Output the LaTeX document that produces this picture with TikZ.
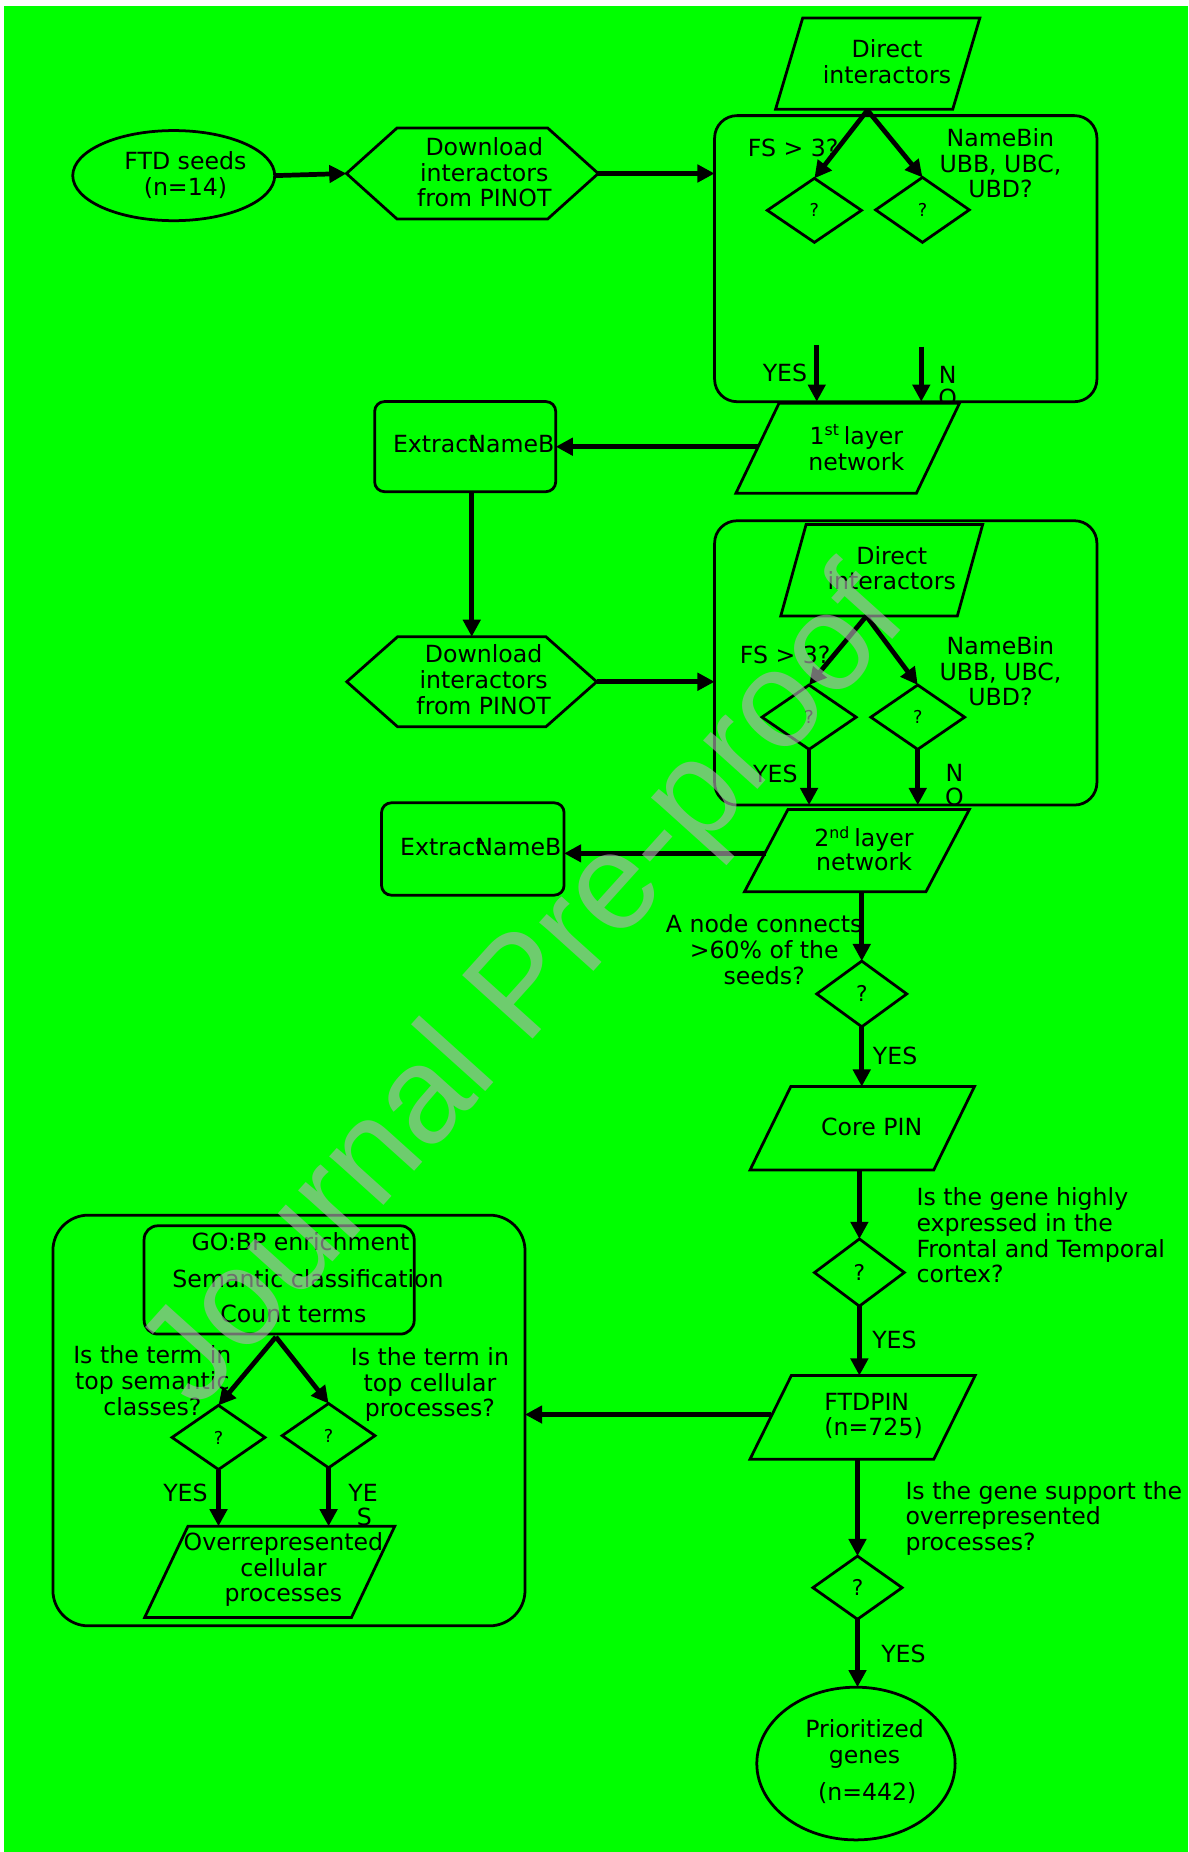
\documentclass[tikz,border=0pt]{standalone}
\usepackage{fontspec}
\setmainfont{DejaVu Sans}
\newfontfamily\wmfont{Liberation Sans}
\usetikzlibrary{shapes.geometric,arrows.meta,calc}
\definecolor{bg}{RGB}{0,255,0}
\definecolor{wm}{RGB}{175,175,175}
\tikzset{
  outline/.style={draw=black, line width=1.4pt},
  sz/.style 2 args={minimum width=#1*0.6pt, minimum height=#2*0.6pt, inner sep=0pt, outer sep=0pt},
  ghost/.style={draw=none, inner sep=0pt, outer sep=0pt},
  dia/.style={diamond, outline, fill=bg, inner sep=0pt, outer sep=0pt, font=\fontsize{9}{10}\selectfont},
  bigdia/.style={dia, font=\fontsize{11}{12}\selectfont},
  oval/.style={ellipse, outline, fill=bg, inner sep=0pt, outer sep=0pt},
  conn/.style={line width=2.4pt, -{Triangle[length=8.7pt,width=8.7pt]}},
  txt/.style={font=\fontsize{12}{13}\selectfont, align=center, inner sep=0pt},
  ltxt/.style={txt, align=left, anchor=west},
}
\newcommand\pgramdraw[2]{\draw[outline, fill=bg] (#1.south west) -- ($(#1.north west)+(#2,0)$) -- (#1.north east) -- ($(#1.south east)+(-#2,0)$) -- cycle;}
\newcommand\hexdraw[2]{\draw[outline, fill=bg] (#1.west) -- ($(#1.north west)+(#2,0)$) -- ($(#1.north east)+(-#2,0)$) -- (#1.east) -- ($(#1.south east)+(-#2,0)$) -- ($(#1.south west)+(#2,0)$) -- cycle;}
\begin{document}
\begin{tikzpicture}[x=0.6pt,y=-0.6pt]
\useasboundingbox (0,0) rectangle (1006,1568);
\fill[white] (0,0) rectangle (1006,1568);
\fill[bg] (3.4,5.1) rectangle (1006,1568);

% containers
\node[outline, rounded corners=11.4pt, sz={323.7}{242.2}] (box1) at (766.85,219) {};
\node[outline, rounded corners=11.4pt, sz={323.7}{240.7}] (box2) at (766.85,561.25) {};
\node[outline, rounded corners=18pt, sz={399.7}{347.7}] (box3) at (244.65,1202.65) {};

% labels inside containers
\node[txt] at (671.5,125.6) {FS > 3?};
\node[txt] at (847,138.3) {NameBin\\UBB, UBC,\\UBD?};
\node[txt] at (664.6,316.1) {YES};
\node[txt] at (802.4,317) {N};
\node[txt] at (802.4,337) {O};
\node[txt] at (664.7,554.6) {FS > 3?};
\node[txt] at (847,568.5) {NameBin\\UBB, UBC,\\UBD?};
\node[txt] at (656.5,654.8) {YES};
\node[txt] at (808,654.3) {N};
\node[txt] at (808,674.6) {O};

% shapes
\node[oval, sz={171}{76.3}] (ftd) at (147.1,148.7) {};
\node[ghost, sz={213.2}{77}] (hex1) at (399.9,146.9) {}; \hexdraw{hex1}{42.8}
\node[ghost, sz={173}{77.4}] (pi1) at (743.1,53.9) {}; \pgramdraw{pi1}{23}
\node[dia, sz={79.7}{54.2}] (d1l) at (689.5,178.1) {?};
\node[dia, sz={79.3}{55}] (d1r) at (781,177.7) {?};
\node[ghost, sz={189.3}{76.2}] (l1) at (717.65,379.6) {}; \pgramdraw{l1}{36.5}
\node[outline, fill=bg, rounded corners=5pt, sz={153.3}{76.3}] (e1) at (393.85,378.15) {};
\node[ghost, sz={211.6}{76.2}] (hex2) at (399.4,577.2) {}; \hexdraw{hex2}{43}
\node[ghost, sz={171}{77.6}] (pi2) at (746.5,482.8) {}; \pgramdraw{pi2}{21.5}
\node[dia, sz={79.7}{54.5}] (d2l) at (685,607.2) {?};
\node[dia, sz={79.4}{54.5}] (d2r) at (777,607.2) {?};
\node[ghost, sz={190.4}{69.7}] (l2) at (725.5,720.2) {}; \pgramdraw{l2}{36.8}
\node[outline, fill=bg, rounded corners=5pt, sz={154.6}{78.2}] (e2) at (400.3,718.8) {};
\node[bigdia, sz={76.2}{55.6}] (d3) at (729.6,841.5) {?};
\node[ghost, sz={190}{70.7}] (core) at (730,955.3) {}; \pgramdraw{core}{34.5}
\node[bigdia, sz={76}{56.9}] (d4) at (727.6,1077.4) {?};
\node[ghost, sz={190.6}{70.8}] (ftdpin) at (730.3,1200) {}; \pgramdraw{ftdpin}{35}
\node[bigdia, sz={75.5}{53.5}] (d5) at (726,1344.2) {?};
\node[oval, sz={167.9}{129.3}] (prio) at (724.7,1493.1) {};
\node[ghost, sz={228.7}{91.7}] (inner) at (236.35,1083.65) {};
\node[dia, sz={78.7}{54.3}] (d6) at (185,1217) {?};
\node[dia, sz={78.6}{54.4}] (d7) at (278.2,1215.5) {?};
\node[ghost, sz={211.7}{77.2}] (ocp) at (228.35,1330.8) {}; \pgramdraw{ocp}{36.6}

% connectors
\draw[conn] (ftd.east) -- (hex1.west);
\draw[conn] (hex1.east) -- (hex1.east -| box1.west);
\coordinate (a1) at ($(pi1.south)+(-8.7,0.7)$);
\draw[conn] (a1) -- (d1l.north);
\draw[conn] (a1) -- (d1r.north);
\coordinate (y1) at (691.5,292.1);
\coordinate (n1) at (780,293.5);
\draw[conn] (y1) -- (y1 |- box1.south);
\draw[conn] (n1) -- (n1 |- box1.south);
\coordinate (s1) at ($(l1.west)+(18.7,-1.4)$);
\draw[conn] (s1) -- (s1 -| e1.east);
\draw[conn] (hex2.north |- e1.south) -- (hex2.north);
\draw[conn] (hex2.east) -- (hex2.east -| box2.west);
\coordinate (a2) at ($(pi2.south)+(-13,0)$);
\draw[conn] (a2) -- (d2l.north);
\draw[conn] (a2) -- (d2r.north);
\draw[conn] (d2l.south) -- (d2l.south |- box2.south);
\draw[conn] (d2r.south) -- (d2r.south |- box2.south);
\coordinate (s2) at ($(l2.west)+(18.4,2.3)$);
\draw[conn] (s2) -- (s2 -| e2.east);
\draw[conn] (d3.north |- l2.south) -- (d3.north);
\draw[conn] (d3.south) -- (d3.south |- core.north);
\draw[conn] (d4.north |- core.south) -- (d4.north);
\draw[conn] (d4.south) -- (d4.south |- ftdpin.north);
\coordinate (s3) at ($(ftdpin.west)+(17.5,-2.4)$);
\draw[conn] (s3) -- (s3 -| box3.east);
\draw[conn] (d5.north |- ftdpin.south) -- (d5.north);
\draw[conn] (d5.south) -- (d5.south |- prio.north);
\coordinate (a3) at ($(inner.south)+(-2.8,2.4)$);
\draw[conn] (a3) -- (d6.north);
\draw[conn] (a3) -- (d7.north);
\draw[conn] (d6.south) -- (d6.south |- ocp.north);
\draw[conn] (d7.south) -- (d7.south |- ocp.north);

% shape texts
\node[txt] at (157,148) {FTD seeds\\(n=14)};
\node[txt] at (410,146) {Download\\interactors\\from PINOT};
\node[txt] at (751,52) {Direct\\interactors};
\node[txt] at (725,379) {1\textsuperscript{st}\,layer\\network};
\node[txt] at (401,376.2) {Extrac\rlap{t}NameB};
\node[txt] at (409.5,575.5) {Download\\interactors\\from PINOT};
\node[txt] at (755,481) {Direct\\interactors};
\node[txt] at (731.5,718.3) {2\textsuperscript{nd}\,layer\\[-1pt]network};
\node[txt] at (407,716.9) {Extrac\rlap{t}NameB};
\node[txt] at (647,804) {A node connects\\>60\% of the\\seeds?};
\node[txt] at (757.8,894.2) {YES};
\node[txt] at (738,954) {Core PIN};
\node[ltxt] at (775.7,1046) {Is the gene highly\\expressed in the\\Frontal and Temporal\\cortex?};
\node[txt] at (757.3,1134.4) {YES};
\node[ltxt] at (697.7,1198.7) {FTDPIN\\(n=725)};
\node[ltxt] at (766.3,1285.5) {Is the gene support the\\overrepresented\\processes?};
\node[txt] at (764.9,1400.2) {YES};
\node[txt] at (732,1476.5) {Prioritized\\genes};
\node[txt] at (734.3,1518.1) {(n=442)};

% GO:BP box
\node[txt] at (254.4,1051.4) {GO:BP enrichment};
\node[txt] at (260.8,1083) {Semantic classification};
\node[txt] at (248.4,1112) {Count terms};
\draw[outline, rounded corners=7pt] (inner.south west) rectangle (inner.north east);
\node[txt] at (129,1169) {Is the term in\\top semantic\\classes?};
\node[txt] at (364,1172.5) {Is the term in\\top cellular\\processes?};
\node[txt] at (157,1264) {YES};
\node[txt] at (307.4,1263.8) {YE};
\node[txt] at (308.4,1284.3) {S};
\node[txt] at (240,1329) {Overrepresented\\cellular\\processes};

% watermark
\node[font=\wmfont\fontsize{70}{70}\selectfont, text=wm, opacity=0.63, rotate=48, anchor=base, inner sep=0pt] (wmark) at (469,860) {Journal Pre-proof};
\end{tikzpicture}
\end{document}
